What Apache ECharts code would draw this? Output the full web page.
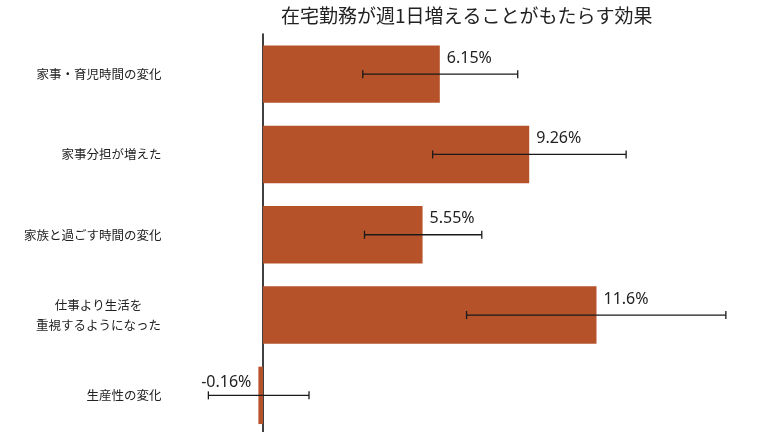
<!DOCTYPE html>
<html>
<head>
<meta charset="UTF-8">
<title>在宅勤務の効果</title>
<script src="https://cdn.jsdelivr.net/npm/echarts@6/dist/echarts.min.js"></script>
<style>
	html, body { margin: 0; padding: 0; background: #fff; }
	#main { width: 768px; height: 432px; }
</style>
</head>
<body>
<div id="main"></div>
<script type="text/javascript">
    // データ（上から順）
    var categories = ['家事・育児時間の変化', '家事分担が増えた', '家族と過ごす時間の変化', '仕事より生活を\n重視するようになった', '生産性の変化'];
    var effects = [6.15, 9.26, 5.55, 11.6, -0.16];
    var lowerBounds = [3.47, 5.90, 3.53, 7.08, -1.90];
    var upperBounds = [8.86, 12.63, 7.61, 16.10, 1.60];

    var myChart = echarts.init(document.getElementById('main'));

    var barData = effects.map(function (v) {
        if (v < 0) {
            return {value: v, label: {position: 'left', offset: [0, -13]}};
        }
        return v;
    });
    var errData = categories.map(function (c, i) {
        return [i, lowerBounds[i], upperBounds[i]];
    });

    myChart.setOption({
        animation: false,
        textStyle: {fontFamily: '"Noto Sans CJK JP", "Noto Sans", sans-serif'},
        title: {
            text: '在宅勤務が週1日増えることがもたらす効果',
            left: 276,
            top: 1,
            textStyle: {fontSize: 19, fontWeight: 'normal', color: '#222'}
        },
        grid: {
            left: 205.5, right: 16.25, top: 34, bottom: -3.5,
            containLabel: false,
            outerBoundsMode: 'none'
        },
        xAxis: {
            type: 'value',
            min: -2,
            max: 17,
            show: false
        },
        yAxis: {
            type: 'category',
            inverse: true,
            data: categories,
            axisLine: {onZero: true, lineStyle: {color: '#000', width: 1.5}},
            axisTick: {show: false},
            axisLabel: {
                margin: 44,
                color: '#222',
                fontSize: 12.5,
                lineHeight: 20,
                // 2行のラベルは中央揃え、1行は右揃え
                formatter: function (v) {
                    return v.indexOf('\n') >= 0 ? '{c|' + v + '}' : '{r|' + v + '}';
                },
                rich: {
                    c: {width: 126, align: 'center', fontSize: 12.5, lineHeight: 20, color: '#222'},
                    r: {width: 126, align: 'right', fontSize: 12.5, lineHeight: 20, color: '#222'}
                }
            }
        },
        series: [
            {
                type: 'bar',
                data: barData,
                barWidth: '71.5%',
                itemStyle: {color: '#b5522a'},
                label: {
                    show: true,
                    position: 'right',
                    distance: 7,
                    offset: [0, -16],
                    fontFamily: '"Noto Sans", sans-serif',
                    fontSize: 16,
                    color: '#222',
                    formatter: function (p) { return p.value + '%'; }
                },
                z: 2
            },
            {
                type: 'custom',
                data: errData,
                z: 5,
                renderItem: function (params, api) {
                    var lo = api.coord([api.value(1), api.value(0)]);
                    var hi = api.coord([api.value(2), api.value(0)]);
                    var y = lo[1];
                    var cap = 4;
                    var style = {stroke: '#1a1a1a', lineWidth: 1.3};
                    return {
                        type: 'group',
                        children: [
                            {type: 'line', shape: {x1: lo[0], y1: y, x2: hi[0], y2: y}, style: style},
                            {type: 'line', shape: {x1: lo[0], y1: y - cap, x2: lo[0], y2: y + cap}, style: style},
                            {type: 'line', shape: {x1: hi[0], y1: y - cap, x2: hi[0], y2: y + cap}, style: style}
                        ]
                    };
                }
            }
        ]
    });
</script>
</body>
</html>
